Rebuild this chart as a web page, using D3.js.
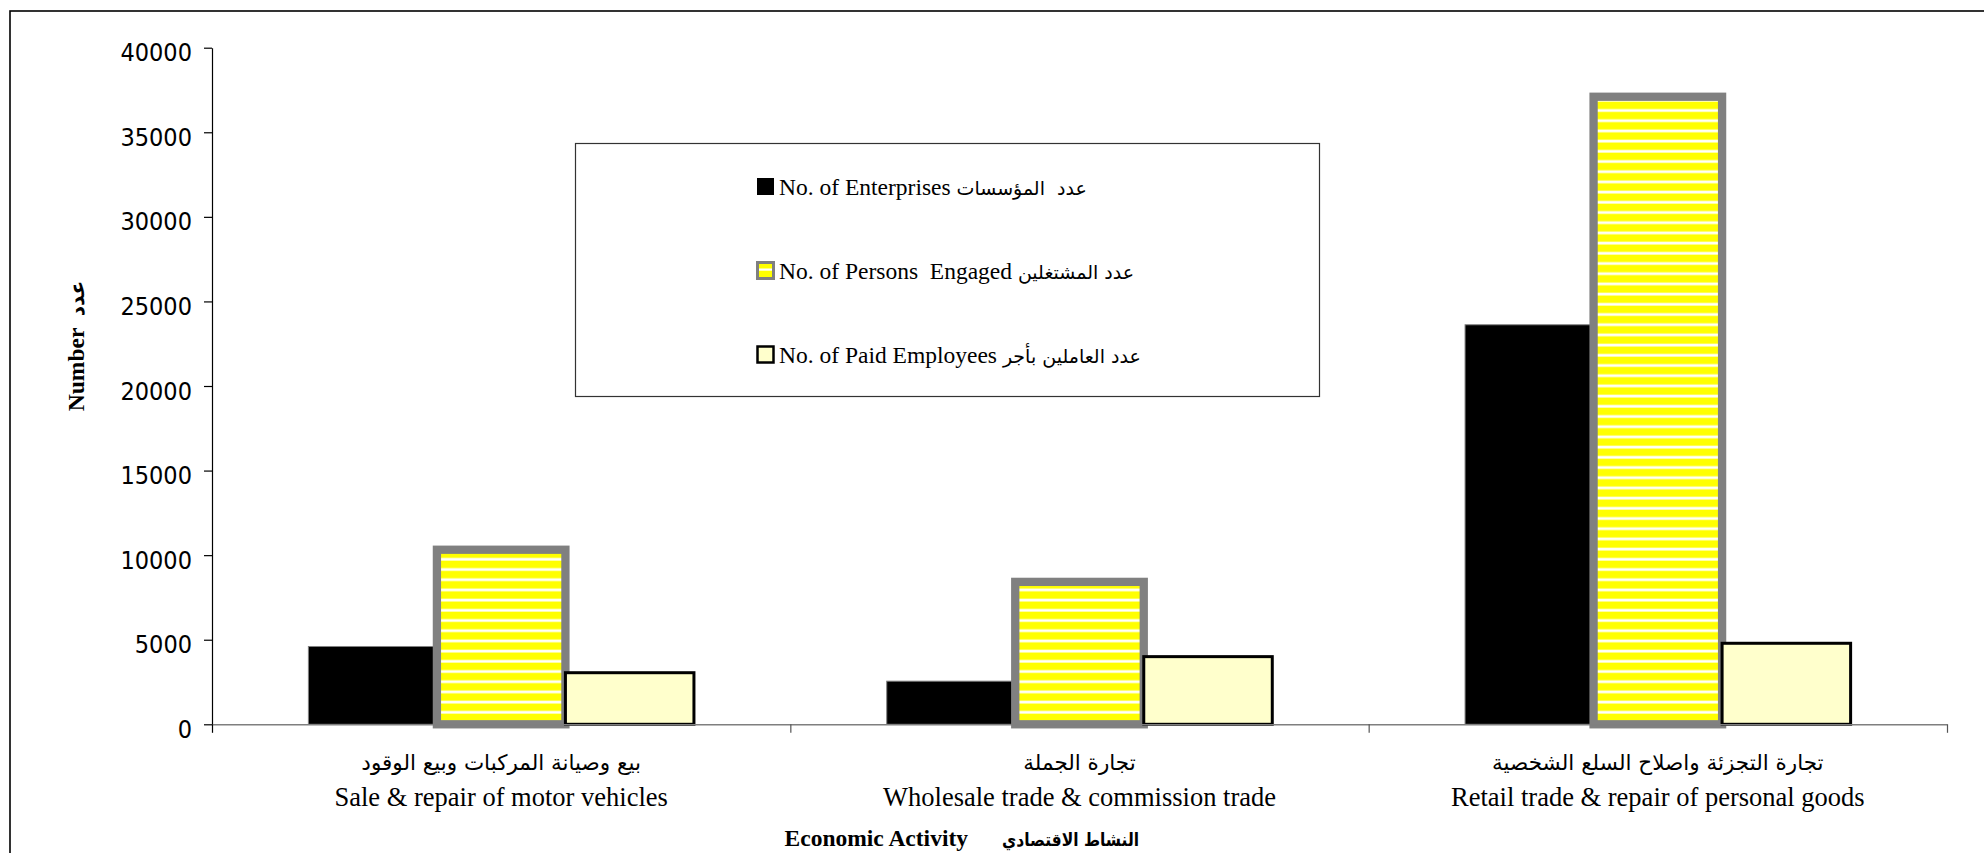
<!DOCTYPE html>
<html>
<head>
<meta charset="utf-8">
<script src="https://cdn.jsdelivr.net/npm/d3@7"></script>
<style>
  html, body { margin: 0; padding: 0; background: #fff; }
  svg { display: block; }
  text { white-space: pre; }
</style>
</head>
<body>
<svg id="chart" width="1984" height="853"></svg>
<script>
// ---- Data ----
const categoriesEn = ["Sale & repair of motor vehicles", "Wholesale trade & commission trade", "Retail trade & repair of personal goods"];
const categoriesAr = ["بيع وصيانة المركبات وبيع الوقود", "تجارة الجملة", "تجارة التجزئة واصلاح السلع الشخصية"];
const seriesNames = ["enterprises", "persons", "paid"];
const seriesLabelsEn = ["No. of Enterprises ", "No. of Persons  Engaged ", "No. of Paid Employees "];
const seriesLabelsAr = ["عدد  المؤسسات", "عدد المشتغلين", "عدد العاملين بأجر"];
const enterprises = [4600, 2550, 23620];
const personsEngaged = [10320, 8420, 37100];
const paidEmployees = [3050, 4000, 4790];
const yTicks = [0, 5000, 10000, 15000, 20000, 25000, 30000, 35000, 40000];
const yTitle = ["Number  ", "عدد"];
const xTitle = ["Economic Activity", "النشاط الاقتصادي"];

const values = [enterprises, personsEngaged, paidEmployees];

// ---- Layout ----
const svg = d3.select("#chart");
const x0 = 212, x1 = 1947, yTop = 47.7, yBase = 724.3;

// frame
svg.append("rect").attr("x", 10).attr("y", 11).attr("width", 2100).attr("height", 1000)
  .attr("fill", "#fff").attr("stroke", "#000").attr("stroke-width", 1.6);

const defs = svg.append("defs");
const pat = defs.append("pattern").attr("id", "stripes")
  .attr("patternUnits", "userSpaceOnUse").attr("width", 20).attr("height", 10.2);
pat.append("rect").attr("width", 20).attr("height", 10.2).attr("fill", "#ffff00");
pat.append("rect").attr("y", 7).attr("width", 20).attr("height", 3).attr("fill", "#ffffb8");
pat.append("rect").attr("y", 7.6).attr("width", 20).attr("height", 1.8).attr("fill", "#ffffff");

const y = d3.scaleLinear().domain([0, 40000]).range([yBase, yTop]);
const xCat = d3.scaleBand().domain(d3.range(categoriesEn.length)).range([x0, x1]).padding(0);
const xSer = d3.scaleBand().domain(seriesNames).range([0, xCat.bandwidth()]).paddingInner(0).paddingOuter(0.75);

const fills = { enterprises: "#000000", persons: "url(#stripes)", paid: "#ffffcc" };
const strokes = { enterprises: "#808080", persons: "#808080", paid: "#000000" };
const strokeW = { enterprises: 1, persons: 8.3, paid: 3 };

// bars (series order)
seriesNames.forEach((s, si) => {
  svg.append("g").selectAll("rect").data(values[si]).join("rect")
    .attr("x", (d, i) => xCat(i) + xSer(s))
    .attr("y", d => y(d))
    .attr("width", xSer.bandwidth())
    .attr("height", d => yBase - y(d))
    .attr("fill", fills[s])
    .attr("stroke", strokes[s])
    .attr("stroke-width", strokeW[s]);
});

// y axis
const yAxis = d3.axisLeft(y).tickValues(yTicks).tickSize(8).tickSizeOuter(0).tickPadding(12)
  .tickFormat(d3.format("d"));
const gy = svg.append("g").attr("transform", `translate(${x0},0)`).call(yAxis);
gy.select(".domain").attr("stroke", "#000").attr("stroke-width", 1.2);
gy.selectAll(".tick line").attr("stroke", "#000").attr("stroke-width", 1.2);
gy.selectAll(".tick text")
  .attr("font-family", "'DejaVu Sans Condensed', 'DejaVu Sans', sans-serif")
  .attr("font-stretch", "condensed")
  .attr("font-size", 25).attr("fill", "#000").attr("dy", "0.52em");

// x axis (category boundaries)
const xb = d3.scaleLinear().domain([0, categoriesEn.length]).range([x0, x1]);
const xAxis = d3.axisBottom(xb).tickValues(d3.range(categoriesEn.length + 1)).tickSize(8.5).tickSizeOuter(0).tickFormat("");
const gx = svg.append("g").attr("transform", `translate(0,${yBase})`).call(xAxis);
gx.select(".domain").attr("stroke", "#7f7f7f").attr("stroke-width", 1.5);
gx.selectAll(".tick line").attr("stroke", "#555").attr("stroke-width", 1.2);
gx.selectAll(".tick line").filter((d) => d === 0).attr("stroke", "#000");

// category labels
const serif = "'Liberation Serif', 'Times New Roman', serif";
const arabicFont = "'DejaVu Sans', sans-serif";
const catG = svg.append("g");
catG.selectAll("text.ar").data(categoriesAr).join("text").attr("class", "ar")
  .attr("x", (d, i) => xCat(i) + xCat.bandwidth() / 2).attr("y", 770)
  .attr("text-anchor", "middle").attr("font-family", arabicFont).attr("font-size", 21.5)
  .attr("fill", "#000").text(d => d);
catG.selectAll("text.en").data(categoriesEn).join("text").attr("class", "en")
  .attr("x", (d, i) => xCat(i) + xCat.bandwidth() / 2).attr("y", 806)
  .attr("text-anchor", "middle").attr("font-family", serif).attr("font-size", 26.5)
  .attr("fill", "#000").text(d => d);

// axis titles
const yt = svg.append("text").attr("transform", "translate(84,346) rotate(-90)")
  .attr("text-anchor", "middle").attr("font-family", serif).attr("font-weight", "bold")
  .attr("font-size", 23.5).attr("fill", "#000");
yt.append("tspan").text(yTitle[0]);
yt.append("tspan").attr("font-family", arabicFont).attr("font-size", 20).text(yTitle[1]);

svg.append("text").attr("x", 968).attr("y", 846).attr("text-anchor", "end")
  .attr("font-family", serif).attr("font-weight", "bold").attr("font-size", 23.5).attr("fill", "#000")
  .text(xTitle[0]);
svg.append("text").attr("x", 1002).attr("y", 846).attr("text-anchor", "start")
  .attr("font-family", arabicFont).attr("font-weight", "bold").attr("font-size", 18).attr("fill", "#000")
  .attr("textLength", 137).attr("lengthAdjust", "spacingAndGlyphs")
  .text(xTitle[1]);

// legend
const lg = svg.append("g");
lg.append("rect").attr("x", 575.5).attr("y", 143.5).attr("width", 744).attr("height", 253)
  .attr("fill", "#fff").attr("stroke", "#333").attr("stroke-width", 1.2);
const legY = [195, 279, 363];
seriesNames.forEach((s, i) => {
  const g = lg.append("g");
  const mx = 757.5, my = legY[i] - 16.5, ms = 16;
  if (s === "persons") {
    g.append("rect").attr("x", mx).attr("y", my).attr("width", ms).attr("height", ms)
      .attr("fill", "#ffff00").attr("stroke", "#808080").attr("stroke-width", 3);
    g.append("rect").attr("x", mx + 1.5).attr("y", my + 6).attr("width", ms - 3).attr("height", 2.2).attr("fill", "#fff");
  } else {
    g.append("rect").attr("x", mx).attr("y", my).attr("width", ms).attr("height", ms)
      .attr("fill", fills[s]).attr("stroke", "#000")
      .attr("stroke-width", s === "paid" ? 2.5 : 1);
  }
  const t = g.append("text").attr("x", 779).attr("y", legY[i])
    .attr("font-family", serif).attr("font-size", 23.5).attr("fill", "#000");
  t.append("tspan").text(seriesLabelsEn[i]);
  t.append("tspan").attr("font-family", arabicFont).attr("font-size", 19).text(seriesLabelsAr[i]);
});
</script>
</body>
</html>
